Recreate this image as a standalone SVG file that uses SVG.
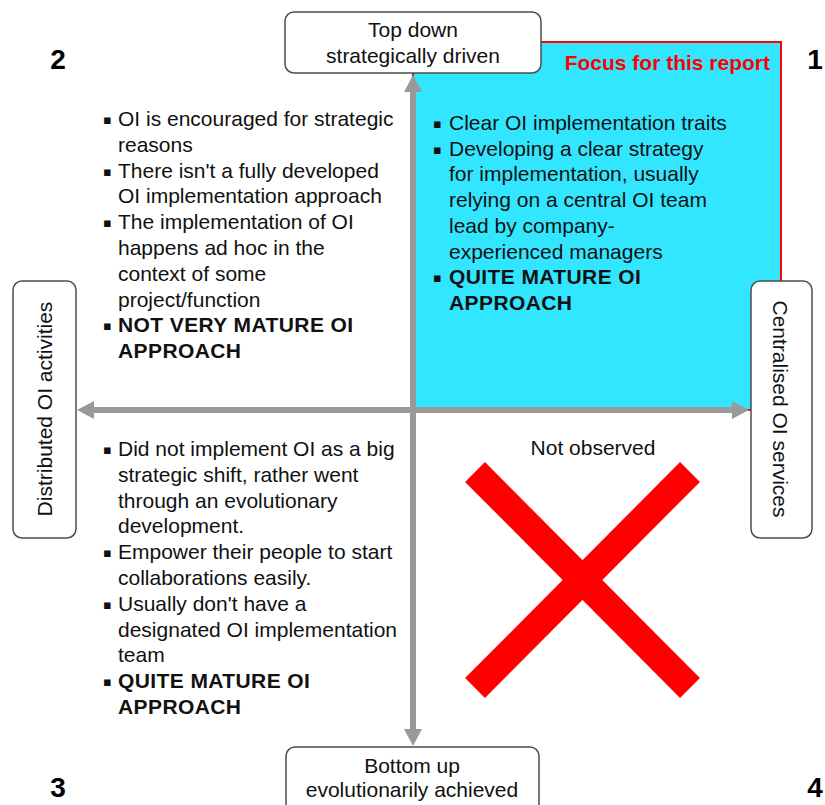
<svg xmlns="http://www.w3.org/2000/svg" width="825" height="805" viewBox="0 0 825 805">
  <style>
    .box { fill: #ffffff; stroke: #4d4d4d; stroke-width: 1.5; }
    .lbl { font-family: "Liberation Sans", Arial, sans-serif; font-size: 21px; fill: #111; text-anchor: middle; }
    .body { font-family: "Liberation Sans", Arial, sans-serif; font-size: 21px; fill: #111; }
    .bold { font-weight: bold; font-size: 21px; letter-spacing: 0.4px; }
    .blt { font-family: "DejaVu Sans", sans-serif; font-size: 13px; fill: #111; }
    .num { font-family: "Liberation Sans", Arial, sans-serif; font-size: 28px; font-weight: bold; fill: #000; text-anchor: middle; }
    .axis { stroke: #999999; stroke-width: 6; fill: none; }
    .head { fill: #999999; }
  </style>
  <rect width="825" height="805" fill="#ffffff"/>

  <!-- highlighted quadrant -->
  <g id="focus-quadrant">
    <rect x="413" y="42" width="368" height="368" fill="#33e6ff" stroke="#ff0000" stroke-width="2"/>
    <text x="770" y="70" font-family="Liberation Sans, Arial, sans-serif" font-size="21" font-weight="bold" fill="#ff0000" text-anchor="end">Focus for this report</text>
  </g>

  <!-- axes -->
  <g id="connectors">
    <line class="axis" x1="413" y1="90" x2="413" y2="730"/>
    <line class="axis" x1="93" y1="410" x2="733" y2="410"/>
    <polygon class="head" points="413,75 404,92 422,92"/>
    <polygon class="head" points="413,746 404,729 422,729"/>
    <polygon class="head" points="77,410 94,401 94,419"/>
    <polygon class="head" points="749,410 732,401 732,419"/>
  </g>

  <!-- axis end labels -->
  <g id="top-node">
    <rect class="box" x="285" y="12" width="256" height="61" rx="9"/>
    <text class="lbl" x="413" y="37">Top down</text>
    <text class="lbl" x="413" y="63">strategically driven</text>
  </g>
  <g id="bottom-node">
    <rect class="box" x="286" y="747" width="253" height="70" rx="9"/>
    <text class="lbl" x="412" y="773">Bottom up</text>
    <text class="lbl" x="412" y="797">evolutionarily achieved</text>
  </g>
  <g id="left-node">
    <rect class="box" x="13" y="281" width="63" height="257" rx="9"/>
    <text class="lbl" transform="translate(52,409) rotate(-90)">Distributed OI activities</text>
  </g>
  <g id="right-node">
    <rect class="box" x="751" y="281" width="61" height="257" rx="9"/>
    <text class="lbl" transform="translate(773,409) rotate(90)">Centralised OI services</text>
  </g>

  <!-- quadrant numbers -->
  <g id="numbers">
    <text class="num" x="58" y="69">2</text>
    <text class="num" x="815" y="69">1</text>
    <text class="num" x="58" y="797">3</text>
    <text class="num" x="815" y="797">4</text>
  </g>

  <!-- quadrant 2 -->
  <g id="q2-text">
    <text class="blt" x="103" y="124">▪</text>
    <text class="blt" x="103" y="176">▪</text>
    <text class="blt" x="103" y="227">▪</text>
    <text class="blt" x="103" y="330">▪</text>
    <text class="body" x="118" y="126">OI is encouraged for strategic
      <tspan x="118" dy="25.8">reasons</tspan>
      <tspan x="118" dy="25.8">There isn't a fully developed</tspan>
      <tspan x="118" dy="25.8">OI implementation approach</tspan>
      <tspan x="118" dy="25.8">The implementation of OI</tspan>
      <tspan x="118" dy="25.8">happens ad hoc in the</tspan>
      <tspan x="118" dy="25.8">context of some</tspan>
      <tspan x="118" dy="25.8">project/function</tspan>
      <tspan x="118" dy="25.8" class="bold">NOT VERY MATURE OI</tspan>
      <tspan x="118" dy="25.8" class="bold">APPROACH</tspan>
    </text>
  </g>

  <!-- quadrant 1 -->
  <g id="q1-text">
    <text class="blt" x="433" y="128">▪</text>
    <text class="blt" x="433" y="154">▪</text>
    <text class="blt" x="433" y="282">▪</text>
    <text class="body" x="449" y="130">Clear OI implementation traits
      <tspan x="449" dy="25.7">Developing a clear strategy</tspan>
      <tspan x="449" dy="25.7">for implementation, usually</tspan>
      <tspan x="449" dy="25.7">relying on a central OI team</tspan>
      <tspan x="449" dy="25.7">lead by company-</tspan>
      <tspan x="449" dy="25.7">experienced managers</tspan>
      <tspan x="449" dy="25.7" class="bold">QUITE MATURE OI</tspan>
      <tspan x="449" dy="25.7" class="bold">APPROACH</tspan>
    </text>
  </g>

  <!-- quadrant 3 -->
  <g id="q3-text">
    <text class="blt" x="103" y="454">▪</text>
    <text class="blt" x="103" y="557">▪</text>
    <text class="blt" x="103" y="609">▪</text>
    <text class="blt" x="103" y="686">▪</text>
    <text class="body" x="118" y="456">Did not implement OI as a big
      <tspan x="118" dy="25.8">strategic shift, rather went</tspan>
      <tspan x="118" dy="25.8">through an evolutionary</tspan>
      <tspan x="118" dy="25.8">development.</tspan>
      <tspan x="118" dy="25.8">Empower their people to start</tspan>
      <tspan x="118" dy="25.8">collaborations easily.</tspan>
      <tspan x="118" dy="25.8">Usually don't have a</tspan>
      <tspan x="118" dy="25.8">designated OI implementation</tspan>
      <tspan x="118" dy="25.8">team</tspan>
      <tspan x="118" dy="25.8" class="bold">QUITE MATURE OI</tspan>
      <tspan x="118" dy="25.8" class="bold">APPROACH</tspan>
    </text>
  </g>

  <!-- quadrant 4 -->
  <g id="q4">
    <text class="lbl" x="593" y="455">Not observed</text>
    <g stroke="#ff0000" stroke-width="28" stroke-linecap="butt">
      <line x1="475" y1="472" x2="690" y2="688"/>
      <line x1="690" y1="472" x2="475" y2="688"/>
    </g>
  </g>
</svg>
